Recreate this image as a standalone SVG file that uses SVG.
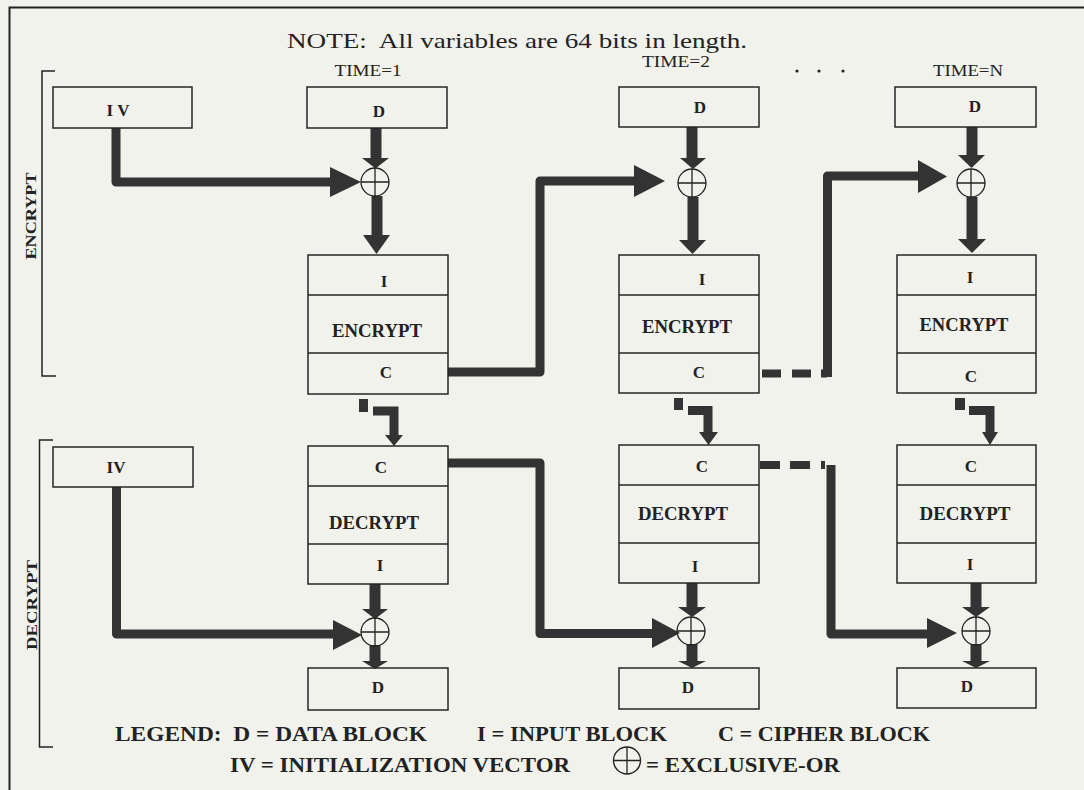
<svg xmlns="http://www.w3.org/2000/svg" width="1084" height="790" viewBox="0 0 1084 790">
<style>
.bg{fill:#f2f2ed}
.box{fill:none;stroke:#262626;stroke-width:1.5}
.lbl{font-family:"Liberation Serif","Times New Roman",serif;font-weight:bold;font-size:17px;fill:#222;text-anchor:middle}
.big{font-size:18px}
.ttl{font-family:"Liberation Serif","Times New Roman",serif;font-size:22px;fill:#222}
.time{font-family:"Liberation Serif","Times New Roman",serif;font-size:16px;fill:#222;text-anchor:middle}
.leg{font-family:"Liberation Serif","Times New Roman",serif;font-size:21px;font-weight:bold;fill:#222}
.side{font-family:"Liberation Serif","Times New Roman",serif;font-size:15px;font-weight:bold;fill:#222;text-anchor:middle}
.wire{fill:none;stroke:#333;stroke-width:9;stroke-linejoin:round}
.shaft{fill:none;stroke:#333;stroke-width:11}
.bent{fill:none;stroke:#333;stroke-width:9;stroke-linejoin:miter}
.head{fill:#333}
.dash{fill:#333}
.xor{fill:none;stroke:#222;stroke-width:1.3}
.frame{fill:none;stroke:#222;stroke-width:2}
.brk{fill:none;stroke:#222;stroke-width:1.5}
</style>
<rect class="bg" x="0" y="0" width="1084" height="790"/>
<g id="frame">
<path class="frame" d="M9.5,790 V7.5 H1084"/>
</g>
<g id="title">
<text class="ttl" x="287" y="48" textLength="460" lengthAdjust="spacingAndGlyphs" xml:space="preserve">NOTE:  All variables are 64 bits in length.</text>
<text class="time" x="368" y="76" textLength="67" lengthAdjust="spacingAndGlyphs">TIME=1</text>
<text class="time" x="676" y="67" textLength="68" lengthAdjust="spacingAndGlyphs">TIME=2</text>
<text class="time" x="968" y="76" textLength="70" lengthAdjust="spacingAndGlyphs">TIME=N</text>
<circle cx="797" cy="71" r="1.6" fill="#222"/>
<circle cx="819" cy="71" r="1.6" fill="#222"/>
<circle cx="843" cy="71" r="1.6" fill="#222"/>
</g>
<g id="bracket-encrypt">
<path class="brk" d="M55,71 H42 V376 H56"/>
<text class="side" transform="translate(36,216) rotate(-90)" textLength="87" lengthAdjust="spacingAndGlyphs">ENCRYPT</text>
</g>
<g id="bracket-decrypt">
<path class="brk" d="M53,440 H39.5 V747 H53"/>
<text class="side" transform="translate(37,605) rotate(-90)" textLength="90" lengthAdjust="spacingAndGlyphs">DECRYPT</text>
</g>
<g id="connectors">
<path class="wire" d="M116,128 V182 H332"/>
<polygon class="head" points="330,167 330,197 361,182"/>
<line class="shaft" x1="376" y1="128" x2="376" y2="159"/>
<polygon class="head" points="362,158 389,158 375.5,168.5"/>
<line class="shaft" x1="377" y1="196" x2="377" y2="236"/>
<polygon class="head" points="363,235 390,235 376.5,254"/>
<path class="wire" d="M448,372 H540 V181 H636"/>
<polygon class="head" points="634,165 634,197 665,181"/>
<line class="shaft" x1="692" y1="127" x2="692" y2="159"/>
<polygon class="head" points="680,158 706,158 693,169"/>
<line class="shaft" x1="693" y1="197" x2="693" y2="241"/>
<polygon class="head" points="679,240 706,240 692.5,254"/>
<rect class="dash" x="762" y="369.5" width="19" height="8"/>
<rect class="dash" x="792" y="369.5" width="19" height="8"/>
<rect class="dash" x="821" y="369.5" width="6" height="8"/>
<path class="wire" d="M827.5,377 V176 H920"/>
<polygon class="head" points="918,160 918,193 947,176.5"/>
<line class="shaft" x1="972" y1="127" x2="972" y2="157"/>
<polygon class="head" points="958,155 985,155 971.5,168"/>
<line class="shaft" x1="972" y1="197" x2="972" y2="241"/>
<polygon class="head" points="958,239 986,239 972,253"/>
<rect class="dash" x="359" y="399" width="9" height="13"/>
<path class="bent" d="M373,411 H394 V437"/>
<polygon class="head" points="385,435 403,435 394,446"/>
<rect class="dash" x="674" y="398" width="9" height="12"/>
<path class="bent" d="M688,410.5 H708 V434"/>
<polygon class="head" points="699,432 718,432 708.5,445"/>
<rect class="dash" x="955" y="398" width="10" height="12"/>
<path class="bent" d="M969,410.5 H990 V434"/>
<polygon class="head" points="982,432 998,432 990,445"/>
<path class="wire" d="M116.5,487 V634 H335"/>
<polygon class="head" points="333,620 333,650 362,635"/>
<line class="shaft" x1="375" y1="584" x2="375" y2="611"/>
<polygon class="head" points="362,609 388,609 375,619"/>
<line class="shaft" x1="375" y1="645" x2="375" y2="663"/>
<polygon class="head" points="362,661 388,661 375,669"/>
<path class="wire" d="M448,463 H540 V633.5 H654"/>
<polygon class="head" points="652,618 652,648 680,633"/>
<line class="shaft" x1="692" y1="583" x2="692" y2="609"/>
<polygon class="head" points="678,607 706,607 692,617"/>
<line class="shaft" x1="692" y1="644" x2="692" y2="663"/>
<polygon class="head" points="678,661 706,661 692,668"/>
<rect class="dash" x="760" y="461" width="20" height="8"/>
<rect class="dash" x="790" y="461" width="20" height="8"/>
<rect class="dash" x="821" y="461" width="4" height="8"/>
<path class="wire" d="M831,465 V634 H929"/>
<polygon class="head" points="927,618 927,648 957,633"/>
<line class="shaft" x1="976" y1="583" x2="976" y2="609"/>
<polygon class="head" points="962,607 990,607 976,617"/>
<line class="shaft" x1="976" y1="644" x2="976" y2="663"/>
<polygon class="head" points="962,661 990,661 976,668"/>
</g>
<g id="xor-e1"><circle class="xor" cx="375" cy="182" r="14"/><path class="xor" d="M361,182 H389 M375,168 V196"/></g>
<g id="xor-e2"><circle class="xor" cx="692" cy="183" r="14"/><path class="xor" d="M678,183 H706 M692,169 V197"/></g>
<g id="xor-eN"><circle class="xor" cx="971" cy="183" r="14"/><path class="xor" d="M957,183 H985 M971,169 V197"/></g>
<g id="xor-d1"><circle class="xor" cx="375" cy="632" r="14"/><path class="xor" d="M361,632 H389 M375,618 V646"/></g>
<g id="xor-d2"><circle class="xor" cx="691" cy="631" r="14"/><path class="xor" d="M677,631 H705 M691,617 V645"/></g>
<g id="xor-dN"><circle class="xor" cx="976" cy="631" r="14"/><path class="xor" d="M962,631 H990 M976,617 V645"/></g>
<g id="iv-top">
<rect class="box" x="53" y="87" width="139" height="41"/>
<text class="lbl" x="118" y="116" xml:space="preserve">I V</text>
</g>
<g id="d-top-1"><rect class="box" x="307" y="87" width="140" height="41"/><text class="lbl" x="379" y="117">D</text></g>
<g id="d-top-2"><rect class="box" x="619" y="87" width="140" height="40"/><text class="lbl" x="700" y="113">D</text></g>
<g id="d-top-N"><rect class="box" x="895" y="87" width="141" height="40"/><text class="lbl" x="975" y="112">D</text></g>
<g id="enc-1">
<rect class="box" x="308" y="255" width="140" height="139"/>
<path class="box" d="M308,295 H448 M308,353 H448"/>
<text class="lbl" x="384" y="287">I</text>
<text class="lbl big" x="377" y="337" textLength="90" lengthAdjust="spacingAndGlyphs">ENCRYPT</text>
<text class="lbl" x="386" y="378">C</text>
</g>
<g id="enc-2">
<rect class="box" x="619" y="255" width="140" height="138"/>
<path class="box" d="M619,295 H759 M619,353 H759"/>
<text class="lbl" x="702" y="285">I</text>
<text class="lbl big" x="687" y="333" textLength="90" lengthAdjust="spacingAndGlyphs">ENCRYPT</text>
<text class="lbl" x="699" y="378">C</text>
</g>
<g id="enc-N">
<rect class="box" x="897" y="255" width="139" height="138"/>
<path class="box" d="M897,295 H1036 M897,353 H1036"/>
<text class="lbl" x="970" y="283">I</text>
<text class="lbl big" x="964" y="331" textLength="89" lengthAdjust="spacingAndGlyphs">ENCRYPT</text>
<text class="lbl" x="971" y="382">C</text>
</g>
<g id="iv-bottom">
<rect class="box" x="53" y="447" width="140" height="40"/>
<text class="lbl" x="116" y="473">IV</text>
</g>
<g id="dec-1">
<rect class="box" x="308" y="446" width="140" height="138"/>
<path class="box" d="M308,486 H448 M308,544 H448"/>
<text class="lbl" x="381" y="473">C</text>
<text class="lbl big" x="374" y="529" textLength="90" lengthAdjust="spacingAndGlyphs">DECRYPT</text>
<text class="lbl" x="380" y="571">I</text>
</g>
<g id="dec-2">
<rect class="box" x="619" y="445" width="140" height="138"/>
<path class="box" d="M619,485 H759 M619,543 H759"/>
<text class="lbl" x="702" y="472">C</text>
<text class="lbl big" x="683" y="520" textLength="90" lengthAdjust="spacingAndGlyphs">DECRYPT</text>
<text class="lbl" x="695" y="572">I</text>
</g>
<g id="dec-N">
<rect class="box" x="897" y="445" width="139" height="138"/>
<path class="box" d="M897,485 H1036 M897,543 H1036"/>
<text class="lbl" x="971" y="472">C</text>
<text class="lbl big" x="965" y="520" textLength="91" lengthAdjust="spacingAndGlyphs">DECRYPT</text>
<text class="lbl" x="970" y="570">I</text>
</g>
<g id="d-bot-1"><rect class="box" x="308" y="668" width="140" height="42"/><text class="lbl" x="378" y="693">D</text></g>
<g id="d-bot-2"><rect class="box" x="619" y="668" width="140" height="41"/><text class="lbl" x="688" y="693">D</text></g>
<g id="d-bot-N"><rect class="box" x="897" y="668" width="139" height="40"/><text class="lbl" x="967" y="692">D</text></g>
<g id="legend">
<text class="leg" x="115" y="741" textLength="312" lengthAdjust="spacingAndGlyphs" xml:space="preserve">LEGEND:  D = DATA BLOCK</text>
<text class="leg" x="477" y="741" textLength="190" lengthAdjust="spacingAndGlyphs">I = INPUT BLOCK</text>
<text class="leg" x="718" y="741" textLength="212" lengthAdjust="spacingAndGlyphs">C = CIPHER BLOCK</text>
<text class="leg" x="230" y="772" textLength="340" lengthAdjust="spacingAndGlyphs">IV = INITIALIZATION VECTOR</text>
<circle class="xor" cx="627" cy="760.5" r="13.5"/>
<path class="xor" d="M613.5,760.5 H640.5 M627,747 V774"/>
<text class="leg" x="646" y="772" textLength="194" lengthAdjust="spacingAndGlyphs">= EXCLUSIVE-OR</text>
</g>
</svg>
